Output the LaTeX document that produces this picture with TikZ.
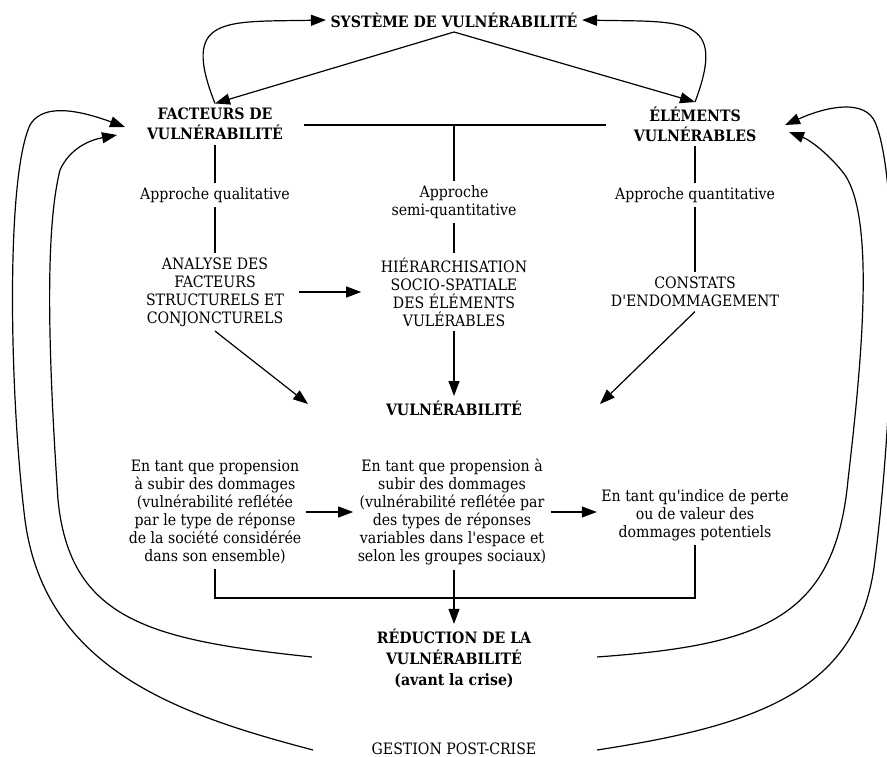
\documentclass[tikz,border=0pt]{standalone}
\usepackage{fontspec}
\setmainfont{DejaVu Serif Condensed}
\usetikzlibrary{arrows.meta,calc}
\begin{document}
\begin{tikzpicture}[x=1pt,y=-1pt,line width=1.2pt,
  txt/.style={align=center,font=\fontsize{15.7}{18}\selectfont,inner sep=4pt},
  btxt/.style={align=center,font=\fontsize{15.7}{20}\selectfont\bfseries,inner sep=4pt},
  arr/.style={-{Triangle[length=15pt,width=11pt]}}]
\useasboundingbox (0,0) rectangle (887,757);
% nodes
\node[btxt] (sys) at (454,20) {SYSTÈME DE VULNÉRABILITÉ};
\node[btxt] (fac) at (215,124) {FACTEURS DE\\VULNÉRABILITÉ};
\node[btxt] (ele) at (695,124) {ÉLÉMENTS\\VULNÉRABLES};
\node[txt] (aq1) at (215,195) {Approche qualitative};
\node[txt] (aq2) at (454,202) {Approche\\semi-quantitative};
\node[txt] (aq3) at (695,195) {Approche quantitative};
\node[txt] (ana) at (215,292) {ANALYSE DES\\FACTEURS\\STRUCTURELS ET\\CONJONCTURELS};
\node[txt] (hie) at (454,292) {HIÉRARCHISATION\\SOCIO-SPATIALE\\DES ÉLÉMENTS\\VULÉRABLES};
\node[txt] (con) at (695,292) {CONSTATS\\D\textquotesingle ENDOMMAGEMENT};
\node[btxt] (vul) at (454,408) {VULNÉRABILITÉ};
\node[txt] (b1) at (215,512) {En tant que propension\\à subir des dommages\\(vulnérabilité reflétée\\par le type de réponse\\de la société considérée\\dans son ensemble)};
\node[txt] (b2) at (452,512) {En tant que propension à\\subir des dommages\\(vulnérabilité reflétée par\\des types de réponses\\variables dans l\textquotesingle espace et\\selon les groupes sociaux)};
\node[txt] (b3) at (695,515) {En tant qu\textquotesingle indice de perte\\ou de valeur des\\dommages potentiels};
\node[btxt,font=\fontsize{15.7}{21}\selectfont\bfseries] (red) at (454,658) {RÉDUCTION DE LA\\VULNÉRABILITÉ\\(avant la crise)};
\node[txt] (ges) at (454,749) {GESTION POST-CRISE};
% coordinates
\coordinate (hl) at (304,125);
\coordinate (hr) at (606,125);
\coordinate (hm) at (454,125);
\coordinate (vl) at (308,404);
\coordinate (vr) at (600,404);
\coordinate (bb) at (454,598);
\coordinate (flo) at (125,127);
\coordinate (fli) at (117,135);
\coordinate (fro) at (785,125);
\coordinate (fri) at (789,132);
\coordinate (li) at (312,657);
\coordinate (lo) at (313,750);
\coordinate (ri) at (597,657);
\coordinate (ro) at (597,750);
% top
\draw[arr] (sys.south) -- (fac.north);
\draw[arr] (sys.south) -- (ele.north);
\draw[arr] (fac.north) .. controls (180,15) and (225,22) .. (sys.west);
\draw[arr] (ele.north) .. controls (728,15) and (683,22) .. (sys.east);
% tree
\draw (hl) -- (hr);
\draw (hm) -- (aq2.north);
\draw (fac.south) -- (aq1.north);
\draw (aq1.south) -- (ana.north);
\draw (aq2.south) -- (hie.north);
\draw (ele.south) -- (aq3.north);
\draw (aq3.south) -- (con.north);
\draw[arr,shorten <=10pt,shorten >=15pt] (ana.east) -- (hie.west);
\draw[arr] (ana.south) -- (vl);
\draw[arr] (hie.south) -- (vul.north);
\draw[arr] (con.south) -- (vr);
% bottom
\draw[arr] (b1.east) -- (b2.west);
\draw[arr] (b2.east) -- (b2.east -| b3.west);
\draw (b1.south) -- (b1.south |- bb) -- (b3.south |- bb) -- (b3.south);
\draw[arr] (b2.south -| red.north) -- (red.north);
% big loops
\draw[arr] (lo) .. controls (180,715) and (45,670) .. (25,520)
  .. controls (10,400) and (5,180) .. (30,125)
  .. controls (40,108) and (65,105) .. (flo);
\draw[arr] (li) .. controls (150,640) and (70,620) .. (58,500)
  .. controls (48,350) and (45,230) .. (60,170)
  .. controls (70,148) and (90,140) .. (fli);
\draw[arr] (ro) .. controls (760,725) and (860,690) .. (875,560)
  .. controls (895,400) and (900,180) .. (875,122)
  .. controls (865,100) and (830,105) .. (fro);
\draw[arr] (ri) .. controls (760,645) and (835,620) .. (848,480)
  .. controls (862,360) and (875,220) .. (845,175)
  .. controls (830,155) and (810,140) .. (fri);
\end{tikzpicture}
\end{document}
